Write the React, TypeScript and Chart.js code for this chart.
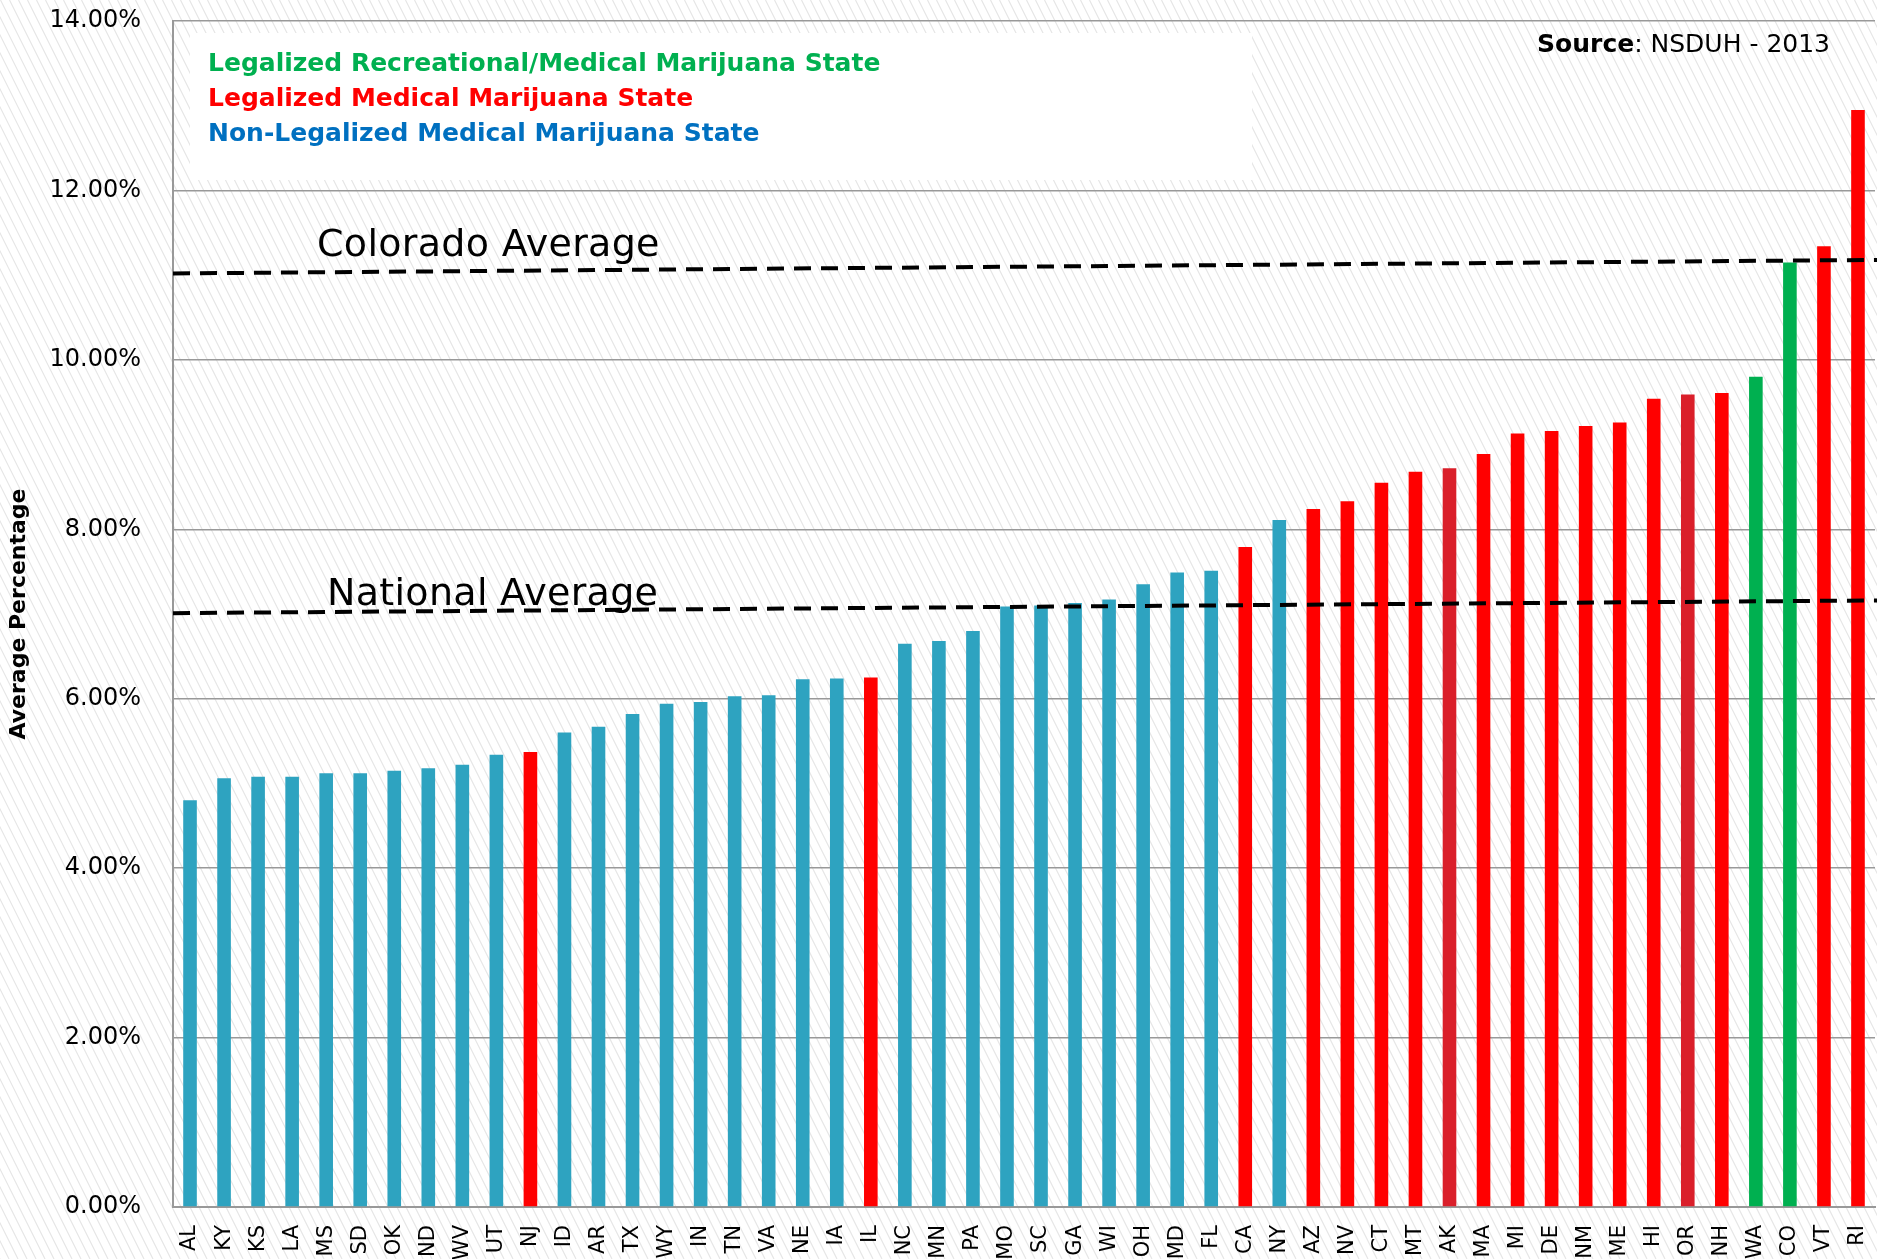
import React, { useEffect, useRef } from "react";
import { Chart, registerables } from "chart.js";

Chart.register(...registerables);

const states = [
  "AL", "KY", "KS", "LA", "MS", "SD", "OK", "ND", "WV", "UT",
  "NJ", "ID", "AR", "TX", "WY", "IN", "TN", "VA", "NE", "IA",
  "IL", "NC", "MN", "PA", "MO", "SC", "GA", "WI", "OH", "MD",
  "FL", "CA", "NY", "AZ", "NV", "CT", "MT", "AK", "MA", "MI",
  "DE", "NM", "ME", "HI", "OR", "NH", "WA", "CO", "VT", "RI",
];

const averagePercent = [
  4.80, 5.06, 5.08, 5.08, 5.12, 5.12, 5.15, 5.18, 5.22, 5.34,
  5.37, 5.60, 5.67, 5.82, 5.94, 5.96, 6.03, 6.04, 6.23, 6.24,
  6.25, 6.65, 6.68, 6.80, 7.09, 7.10, 7.13, 7.17, 7.35, 7.49,
  7.51, 7.79, 8.11, 8.24, 8.33, 8.55, 8.68, 8.72, 8.89, 9.13,
  9.16, 9.22, 9.26, 9.54, 9.59, 9.61, 9.80, 11.15, 11.34, 12.95,
];

// N = non-legalized, M = medical, P = medical (darker shade), R = recreational/medical
const legalStatus = [
  "N", "N", "N", "N", "N", "N", "N", "N", "N", "N",
  "M", "N", "N", "N", "N", "N", "N", "N", "N", "N",
  "M", "N", "N", "N", "N", "N", "N", "N", "N", "N",
  "N", "M", "N", "M", "M", "M", "M", "P", "M", "M",
  "M", "M", "M", "M", "P", "M", "R", "R", "M", "M",
];

const yTicks = [0, 2, 4, 6, 8, 10, 12, 14];

// dashed reference lines: [value at left edge, value at right edge]
const coloradoAverageLine = [11.02, 11.18];
const nationalAverageLine = [7.01, 7.16];

const legendItems = [
  "Legalized Recreational/Medical Marijuana State",
  "Legalized Medical Marijuana State",
  "Non-Legalized Medical Marijuana State",
];

const STATUS_COLORS: Record<string, string> = {
  N: "#2EA3C0",
  M: "#FF0000",
  P: "#DA1F2A",
  R: "#00B050",
};
const LEGEND_COLORS = ["#00B050", "#FF0000", "#0070C0"];
const FONT = '"DejaVu Sans", Verdana, sans-serif';

const hatchPlugin = {
  id: "hatch",
  beforeDraw(chart: any) {
    const { ctx, width, height } = chart;
    ctx.save();
    ctx.fillStyle = "#ffffff";
    ctx.fillRect(0, 0, width, height);
    ctx.strokeStyle = "#e6e6e6";
    ctx.lineWidth = 1.2;
    ctx.beginPath();
    for (let x = -height / 2; x < width + 10; x += 9) {
      ctx.moveTo(x, 0);
      ctx.lineTo(x + height / 2, height);
    }
    ctx.stroke();
    ctx.restore();
  },
};

const legendBoxPlugin = {
  id: "legendBox",
  beforeDatasetsDraw(chart: any) {
    const { ctx, chartArea } = chart;
    const { left, top, right } = chartArea;
    ctx.save();
    ctx.fillStyle = "#ffffff";
    ctx.fillRect(left + 17, top + 12, 1062, 147);
    ctx.font = `bold 25px ${FONT}`;
    ctx.textBaseline = "middle";
    ctx.textAlign = "left";
    legendItems.forEach((t, i) => {
      ctx.fillStyle = LEGEND_COLORS[i];
      ctx.fillText(t, left + 35, top + 43 + i * 35);
    });
    // source
    const bold = "Source";
    const rest = ": NSDUH - 2013";
    ctx.font = `25px ${FONT}`;
    const wRest = ctx.measureText(rest).width;
    ctx.font = `bold 25px ${FONT}`;
    const wBold = ctx.measureText(bold).width;
    const xEnd = right - 45;
    ctx.fillStyle = "#000";
    ctx.fillText(bold, xEnd - wRest - wBold, top + 24);
    ctx.font = `25px ${FONT}`;
    ctx.fillText(rest, xEnd - wRest, top + 24);
    ctx.restore();
  },
};

const averageLinesPlugin = {
  id: "averageLines",
  afterDatasetsDraw(chart: any) {
    const { ctx, chartArea, width } = chart;
    const y = chart.scales.y;
    const left = chartArea.left;
    const lines = [
      { vals: coloradoAverageLine, label: "Colorado Average", dx: 144, dy: 16 },
      { vals: nationalAverageLine, label: "National Average", dx: 154, dy: 7 },
    ];
    ctx.save();
    lines.forEach((ln) => {
      const y0 = y.getPixelForValue(ln.vals[0]);
      const y1 = y.getPixelForValue(ln.vals[1]);
      ctx.setLineDash([17, 10]);
      ctx.lineWidth = 4;
      ctx.strokeStyle = "#000";
      ctx.beginPath();
      ctx.moveTo(left, y0);
      ctx.lineTo(width, y1);
      ctx.stroke();
      ctx.setLineDash([]);
      const tx = left + ln.dx;
      const ty = y0 + ((y1 - y0) * ln.dx) / (width - left) - ln.dy;
      ctx.font = `38px ${FONT}`;
      try {
        (ctx as any).letterSpacing = "0.3px";
      } catch (e) {}
      ctx.fillStyle = "#000";
      ctx.textAlign = "left";
      ctx.textBaseline = "alphabetic";
      ctx.fillText(ln.label, tx, ty);
      try {
        (ctx as any).letterSpacing = "0px";
      } catch (e) {}
    });
    ctx.restore();
  },
};

export default function App() {
  const canvasRef = useRef<HTMLCanvasElement | null>(null);

  useEffect(() => {
    document.body.style.margin = "0";
    document.body.style.overflow = "hidden";
    const canvas = canvasRef.current;
    if (!canvas) return;
    const chart = new Chart(canvas, {
      type: "bar",
      data: {
        labels: states,
        datasets: [
          {
            data: averagePercent,
            backgroundColor: legalStatus.map((s) => STATUS_COLORS[s]),
            borderWidth: 0,
            barPercentage: 0.4,
            categoryPercentage: 1,
          },
        ],
      },
      plugins: [hatchPlugin, legendBoxPlugin, averageLinesPlugin],
      options: {
        animation: false,
        responsive: false,
        maintainAspectRatio: false,
        devicePixelRatio: 1,
        layout: { padding: { top: 21, right: 2, left: 0, bottom: 0 } },
        plugins: {
          legend: { display: false },
          tooltip: { enabled: false },
          title: { display: false },
        },
        scales: {
          x: {
            grid: { display: false, drawTicks: false },
            border: { display: true, color: "#999999", width: 2 },
            ticks: {
              color: "#000",
              font: { family: FONT, size: 21 },
              minRotation: 90,
              maxRotation: 90,
              autoSkip: false,
              padding: 18,
            },
            afterFit: (scale: any) => {
              scale.height = 52;
              scale.paddingLeft = 0;
              scale.paddingRight = 0;
            },
          },
          y: {
            min: 0,
            max: 14,
            afterBuildTicks: (scale: any) => {
              scale.ticks = yTicks.map((v) => ({ value: v }));
            },
            grid: { color: "#999999", lineWidth: 1.5, drawTicks: false },
            border: { display: true, color: "#999999", width: 2 },
            ticks: {
              color: "#000",
              font: { family: FONT, size: 24 },
              padding: 32,
              callback: (v: any) => Number(v).toFixed(2) + "%",
            },
            title: {
              display: true,
              text: "Average Percentage",
              color: "#000",
              font: { family: FONT, size: 22, weight: "bold" },
              padding: { top: 6, bottom: 0 },
            },
            afterFit: (scale: any) => {
              scale.width = 173;
              scale.paddingTop = 0;
              scale.paddingBottom = 0;
            },
          },
        },
      },
    });
    return () => chart.destroy();
  }, []);

  return (
    <div style={{ position: "absolute", left: 0, top: 0, width: 1877, height: 1259 }}>
      <canvas ref={canvasRef} width={1877} height={1259} style={{ width: 1877, height: 1259, display: "block" }} />
    </div>
  );
}
